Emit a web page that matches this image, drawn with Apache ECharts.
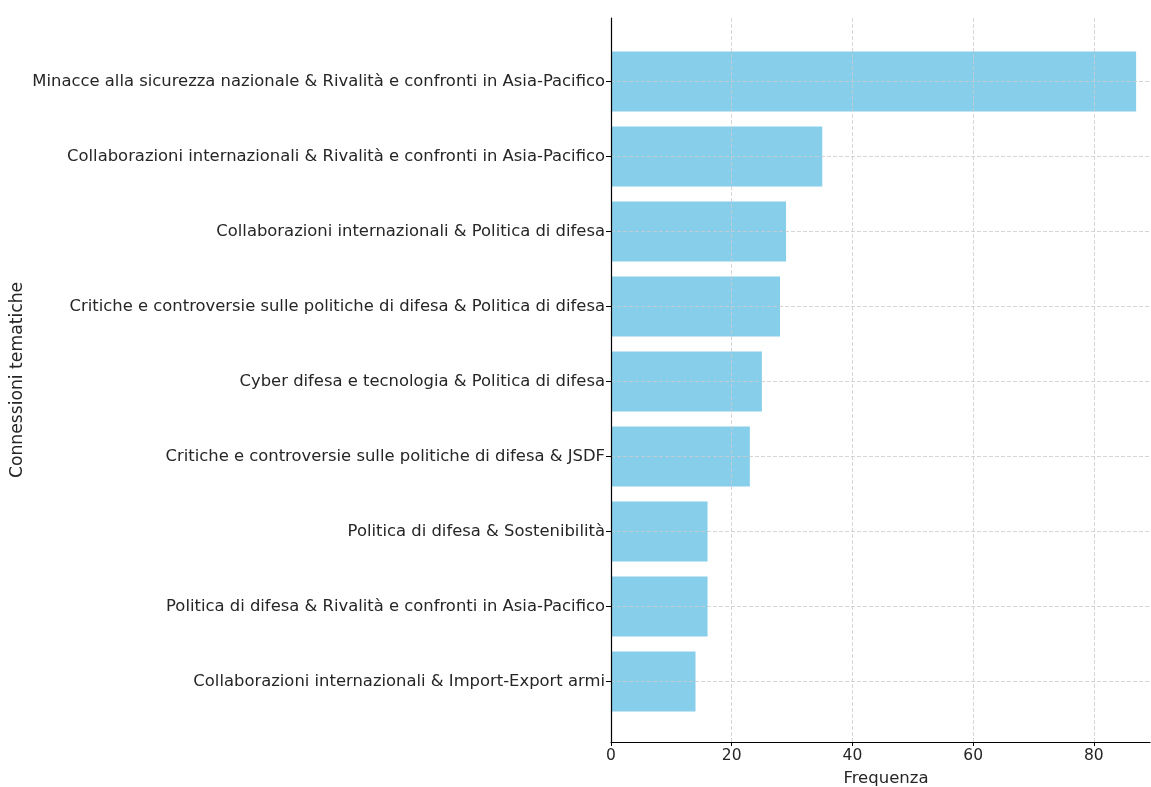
<!DOCTYPE html>
<html><head><meta charset="utf-8">
<script src="https://cdn.jsdelivr.net/npm/echarts@6/dist/echarts.min.js"></script>
<style>html,body{margin:0;padding:0;background:#fff}#c{width:1151px;height:787px}</style>
</head><body><div id="c"></div>
<script>
const categories = [
  "Minacce alla sicurezza nazionale & Rivalità e confronti in Asia-Pacifico",
  "Collaborazioni internazionali & Rivalità e confronti in Asia-Pacifico",
  "Collaborazioni internazionali & Politica di difesa",
  "Critiche e controversie sulle politiche di difesa & Politica di difesa",
  "Cyber difesa e tecnologia & Politica di difesa",
  "Critiche e controversie sulle politiche di difesa & JSDF",
  "Politica di difesa & Sostenibilità",
  "Politica di difesa & Rivalità e confronti in Asia-Pacifico",
  "Collaborazioni internazionali & Import-Export armi"
];
const values = [87, 35, 29, 28, 25, 23, 16, 16, 14];
const xTicks = [0, 20, 40, 60, 80];

const font = "DejaVu Sans";
const txt = "#262626";
const gridLine = { show: true, lineStyle: { color: "#cccccc", type: [4, 2], width: 0.8 } };
const chart = echarts.init(document.getElementById('c'), null, { renderer: 'canvas' });
chart.setOption({
  animation: false,
  textStyle: { fontFamily: font },
  grid: [
    { left: 611, right: 1, top: 18, bottom: 42 },
    { left: 611, right: 1, top: 81.5, bottom: 105.5 }
  ],
  xAxis: [
    { type: 'value', gridIndex: 0, min: 0, max: 89.3, interval: 20, z: 5,
      name: 'Frequenza', nameLocation: 'start', nameGap: 0,
      nameTextStyle: { fontSize: 16.5, color: txt, fontFamily: font,
        align: 'center', verticalAlign: 'top', padding: [28, 0, 0, 550] },
      axisLine: { show: true, lineStyle: { color: '#000', width: 1.2 } },
      axisTick: { show: true, length: 4, lineStyle: { color: '#000' }, customValues: xTicks },
      axisLabel: { fontSize: 15.5, color: txt, margin: 6, fontFamily: font, customValues: xTicks },
      splitLine: gridLine },
    { type: 'value', gridIndex: 1, min: 0, max: 89.3, show: false }
  ],
  yAxis: [
    { type: 'value', gridIndex: 0, min: 0, max: 1, z: 5,
      name: 'Connessioni tematiche', nameLocation: 'middle', nameRotate: 90, nameGap: 585,
      nameTextStyle: { fontSize: 17.2, color: txt, fontFamily: font },
      axisLine: { show: true, lineStyle: { color: '#000', width: 1.2 } },
      axisTick: { show: false }, axisLabel: { show: false }, splitLine: { show: false } },
    { type: 'category', gridIndex: 1, data: categories, inverse: true, boundaryGap: false, z: 5,
      axisLine: { show: false },
      axisTick: { show: true, length: 5, lineStyle: { color: '#000' } },
      axisLabel: { fontSize: 16.4, color: txt, margin: 6, fontFamily: font },
      splitLine: gridLine }
  ],
  series: [{
    type: 'bar', xAxisIndex: 1, yAxisIndex: 1, data: values,
    barWidth: '80%', clip: false,
    itemStyle: { color: '#87CEEB' }
  }]
});
</script></body></html>
